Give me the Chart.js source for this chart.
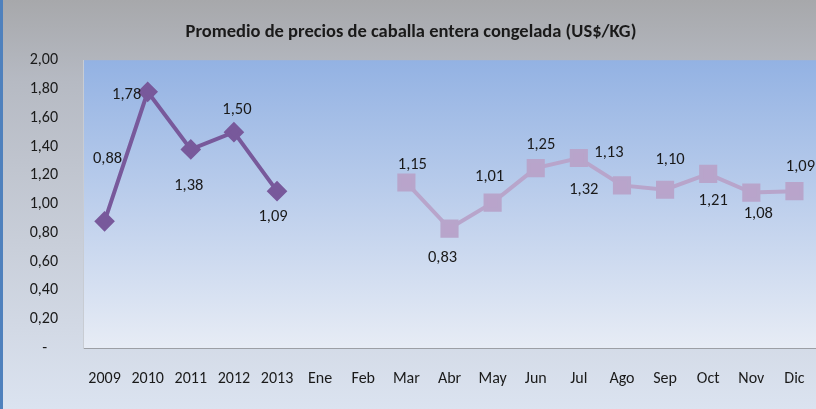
<!DOCTYPE html>
<html>
<head>
<meta charset="utf-8">
<script src="https://cdn.jsdelivr.net/npm/chart.js@4.4.1/dist/chart.umd.min.js"></script>
<style>
  html, body { margin: 0; padding: 0; overflow: hidden; background: #dce4f0; }
  #wrap { position: relative; width: 830px; height: 409px; }
  #wrap:before { content: ''; position: absolute; left: 0; top: 0; width: 3px; height: 409px; background: #4f81bd; z-index: 2; }
</style>
</head>
<body>
<div id="wrap"><canvas id="precios" width="830" height="409"></canvas></div>
<script>
// Categorías: años y luego meses
var categorias = ['2009', '2010', '2011', '2012', '2013', 'Ene', 'Feb', 'Mar', 'Abr', 'May', 'Jun', 'Jul', 'Ago', 'Sep', 'Oct', 'Nov', 'Dic'];

// Promedio anual (US$/KG)
var preciosAnuales = [0.88, 1.78, 1.38, 1.50, 1.09, null, null, null, null, null, null, null, null, null, null, null, null];

// Promedio mensual (US$/KG)
var preciosMensuales = [null, null, null, null, null, null, null, 1.15, 0.83, 1.01, 1.25, 1.32, 1.13, 1.10, 1.21, 1.08, 1.09];

// Marcas del eje Y
var ticksY = [0, 0.2, 0.4, 0.6, 0.8, 1.0, 1.2, 1.4, 1.6, 1.8, 2.0];

// Desplazamiento de cada etiqueta respecto a su punto (px)
var posAnuales = [[3, -62], [-21, 3], [-2, 36], [3, -22], [-4, 26]];
var posMensuales = [[6, -18], [-7, 29], [-3, -26], [5, -23], [5, 32], [-13, -33], [5, -30], [5, 27], [7, 21], [6, -24]];

var fuente = "'Carlito', 'Liberation Sans', sans-serif";

// Formato contable: coma decimal y guion para el cero
function formato(v) {
    if (v === 0) return '-   ';
    return v.toFixed(2).replace('.', ',');
}

// Fondos degradados del gráfico y del área de trazado
var fondos = {
    id: 'fondos',
    beforeDraw: function(chart) {
        var ctx = chart.ctx;
        var a = chart.chartArea;
        ctx.save();
        var g = ctx.createLinearGradient(0, 0, 0, chart.height);
        g.addColorStop(0, '#a7a8ab');
        g.addColorStop(0.2, '#b6bac3');
        g.addColorStop(1, '#dbe3f0');
        ctx.fillStyle = g;
        ctx.fillRect(0, 0, chart.width, chart.height);
        var g2 = ctx.createLinearGradient(0, a.top, 0, a.bottom);
        g2.addColorStop(0, '#93b2e3');
        g2.addColorStop(1, '#e7ecf5');
        ctx.fillStyle = g2;
        ctx.fillRect(a.left, a.top, a.right - a.left, a.bottom - a.top);
        ctx.restore();
    }
};

// Etiquetas de valor junto a cada punto
var etiquetas = {
    id: 'etiquetas',
    afterDatasetsDraw: function(chart) {
        var ctx = chart.ctx;
        ctx.save();
        ctx.font = '16.5px ' + fuente;
        ctx.fillStyle = '#1a1a1a';
        ctx.textAlign = 'center';
        ctx.textBaseline = 'middle';
        chart.data.datasets.forEach(function(ds, i) {
            var meta = chart.getDatasetMeta(i);
            var pos = i === 0 ? posAnuales : posMensuales;
            var k = 0;
            meta.data.forEach(function(pt, j) {
                var v = ds.data[j];
                if (v === null) return;
                var d = pos[k++];
                ctx.fillText(formato(v), pt.x + d[0], pt.y + d[1]);
            });
        });
        ctx.restore();
    }
};

new Chart(document.getElementById('precios'), {
    type: 'line',
    data: {
        labels: categorias,
        datasets: [{
            data: preciosAnuales,
            borderColor: '#78599b',
            backgroundColor: '#78599b',
            borderWidth: 4,
            pointStyle: 'rectRot',
            pointRadius: 7.5,
            pointHoverRadius: 7.5,
            spanGaps: false
        }, {
            data: preciosMensuales,
            borderColor: '#b8a5cb',
            backgroundColor: '#b9a4cb',
            borderWidth: 4,
            pointStyle: 'rect',
            pointRadius: 10,
            pointHoverRadius: 10,
            spanGaps: false
        }]
    },
    options: {
        responsive: false,
        animation: false,
        layout: { padding: { left: 3, right: 11, top: 0, bottom: 0 } },
        plugins: {
            legend: { display: false },
            tooltip: { enabled: false },
            title: {
                display: true,
                text: 'Promedio de precios de caballa entera congelada (US$/KG)',
                color: '#1a1a1a',
                font: { family: fuente, size: 18.5, weight: 'bold' },
                padding: { top: 21, bottom: 17 }
            }
        },
        scales: {
            x: {
                offset: true,
                grid: { display: false },
                border: { display: true, color: '#9c9fa5', width: 1 },
                ticks: { color: '#1a1a1a', font: { family: fuente, size: 16 }, padding: 13, maxRotation: 0, autoSkip: false },
                afterFit: function(s) { s.height = 61; }
            },
            y: {
                min: 0,
                max: 2,
                afterBuildTicks: function(s) { s.ticks = ticksY.map(function(v) { return { value: v }; }); },
                grid: { display: false },
                border: { display: true, color: '#c8ccd3', width: 1 },
                ticks: {
                    color: '#1a1a1a',
                    font: { family: fuente, size: 16 },
                    padding: 17,
                    callback: function(v) { return formato(v); }
                },
                afterFit: function(s) { s.width = 80; }
            }
        }
    },
    plugins: [fondos, etiquetas]
});
</script>
</body>
</html>
